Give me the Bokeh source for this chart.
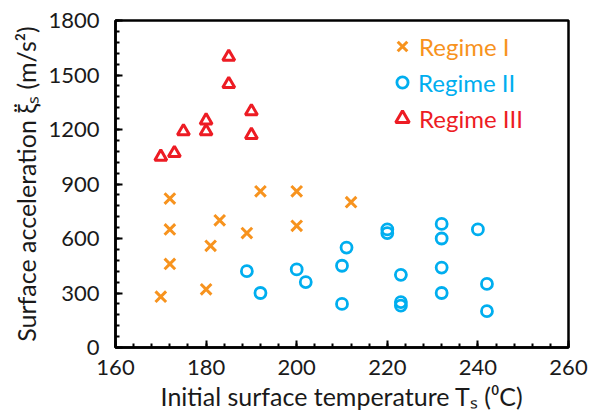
from bokeh.plotting import figure
from bokeh.models import FixedTicker, Range1d, Legend, LegendItem
from bokeh.embed import file_html
from bokeh.resources import INLINE

# Data
reg1_T = [170, 172, 172, 172, 180, 181, 183, 189, 192, 200, 200, 212]
reg1_a = [280, 820, 650, 460, 320, 560, 700, 630, 860, 860, 670, 800]

reg2_T = [189, 192, 200, 202, 210, 211, 210, 220, 220, 223, 223, 223, 232, 232, 232, 232, 240, 242, 242]
reg2_a = [420, 300, 430, 360, 450, 550, 240, 650, 630, 400, 250, 230, 680, 600, 440, 300, 650, 350, 200]

reg3_T = [170, 173, 175, 180, 180, 185, 185, 190, 190]
reg3_a = [1050, 1070, 1190, 1250, 1190, 1600, 1450, 1300, 1170]

x_ticks = [160, 180, 200, 220, 240, 260]
y_ticks = [0, 300, 600, 900, 1200, 1500, 1800]
x_minor = list(range(160, 261, 4))
y_minor = list(range(0, 1801, 60))

labels = ["Regime I", "Regime II", "Regime III"]
colors = ["#F7931E", "#00AEEF", "#ED1C24"]

FONT = "Lato"

p = figure(width=590, height=417, output_backend="svg", toolbar_location=None,
           x_range=Range1d(160, 260), y_range=Range1d(0, 1800),
           min_border_left=115, min_border_right=22, min_border_top=20, min_border_bottom=70)
p.grid.visible = False
p.outline_line_color = "black"
p.outline_line_width = 2.5
p.background_fill_color = "white"
p.border_fill_color = "white"

p.xaxis.ticker = FixedTicker(ticks=x_ticks, minor_ticks=x_minor)
p.yaxis.ticker = FixedTicker(ticks=y_ticks, minor_ticks=y_minor)

for ax in (p.xaxis[0], p.yaxis[0]):
    ax.axis_line_width = 2.5
    ax.axis_line_color = "black"
    ax.major_tick_in = 7
    ax.major_tick_out = 0
    ax.minor_tick_in = 4
    ax.minor_tick_out = 0
    ax.major_tick_line_width = 2
    ax.minor_tick_line_width = 2
    ax.major_tick_line_color = "black"
    ax.minor_tick_line_color = "black"
    ax.major_label_text_font = FONT
    ax.major_label_text_font_size = "22px"
    ax.major_label_text_color = "#1a1a1a"
    ax.axis_label_text_font = FONT
    ax.axis_label_text_font_style = "normal"
    ax.axis_label_text_color = "#1a1a1a"

p.yaxis.major_label_standoff = 16
p.xaxis.major_label_standoff = 12
p.yaxis.axis_label_standoff = 4
p.xaxis.axis_label_standoff = 3
p.yaxis.axis_label_text_font_size = "25px"
p.xaxis.axis_label_text_font_size = "25px"

p.yaxis.axis_label = "Surface acceleration \u03be\u0308\u209b (m/s\u00b2)"
p.xaxis.axis_label = "Initial surface temperature T\u209b (\u2070C)"

r1 = p.scatter(reg1_T, reg1_a, marker="x", size=15, line_color=colors[0], line_width=3)
r2 = p.scatter(reg2_T, reg2_a, marker="circle", size=11, line_color=colors[1], line_width=2.8,
               fill_color=None)
r3 = p.scatter(reg3_T, reg3_a, marker="triangle", size=12, line_color=colors[2], line_width=3,
               fill_color=None)

glyph_w = [34, 28, 34]
for i, (r, lab) in enumerate(zip([r1, r2, r3], labels)):
    gw = glyph_w[i]
    lg = Legend(items=[LegendItem(label=lab, renderers=[r])],
                location=(287 - gw // 2, 301 - 36 * i - 20),
                padding=0, margin=0, spacing=0,
                glyph_width=gw, glyph_height=40, label_height=40,
                label_standoff=max(0, 303 - (287 - gw // 2) - gw),
                border_line_color=None, background_fill_alpha=0,
                label_text_font=FONT, label_text_font_size="24px",
                label_text_color=colors[i])
    p.add_layout(lg, "center")

open("out.html", "w").write(file_html(p, INLINE))
